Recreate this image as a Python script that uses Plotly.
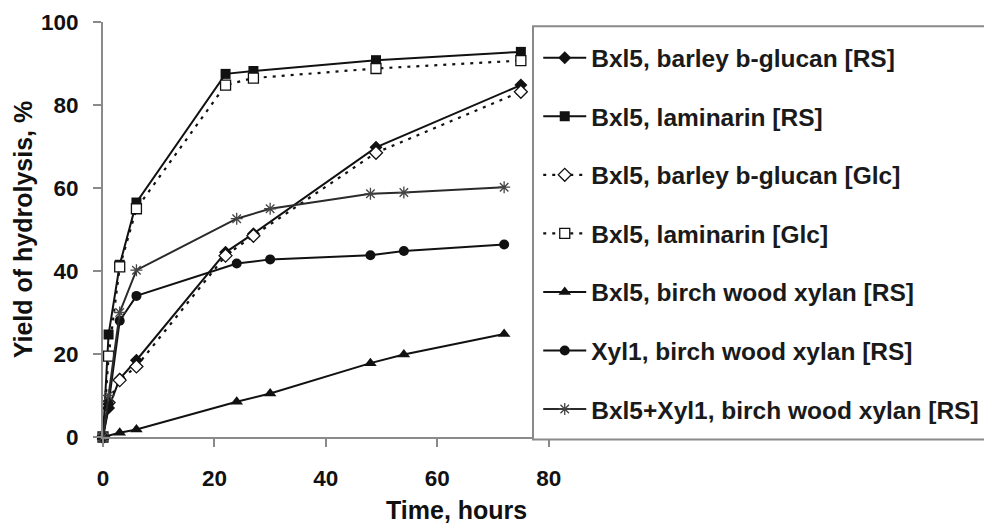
import plotly.graph_objects as go

# Sampling times (hours) for each series
t_glucan = [0, 1, 3, 6, 22, 27, 49, 75]
t_xylan = [0, 3, 6, 24, 30, 48, 54, 72]
t_xyl1 = [0, 1, 3, 6, 24, 30, 48, 54, 72]

# Yield of hydrolysis, %
barley_rs = [0, 7, 14, 18.5, 44.5, 49, 69.8, 84.8]
laminarin_rs = [0, 24.7, 41.5, 56.5, 87.5, 88.2, 90.8, 92.8]
barley_glc = [0, 8.3, 13.7, 17, 43.7, 48.5, 68.5, 83.2]
laminarin_glc = [0, 19.5, 41, 55, 84.8, 86.5, 88.8, 90.7]
bxl5_xylan = [0, 1, 1.8, 8.5, 10.5, 17.8, 19.9, 24.8]
xyl1_xylan = [0, 8, 28, 34, 41.8, 42.8, 43.8, 44.8, 46.4]
mix_xylan = [0, 10, 30, 40.2, 52.6, 55, 58.6, 58.9, 60.2]

names = [
    "Bxl5, barley b-glucan [RS]",
    "Bxl5, laminarin [RS]",
    "Bxl5, barley b-glucan [Glc]",
    "Bxl5, laminarin [Glc]",
    "Bxl5, birch wood xylan [RS]",
    "Xyl1, birch wood xylan [RS]",
    "Bxl5+Xyl1, birch wood xylan [RS]",
]

x_ticks = [0, 20, 40, 60, 80]
y_ticks = [0, 20, 40, 60, 80, 100]

FONT = "Liberation Sans, Arial, sans-serif"
INK = "#111111"
AXIS = "#8a8a8a"

series = [
    (t_glucan, barley_rs, dict(symbol="diamond", size=10, color=INK), dict(color=INK, width=2)),
    (t_glucan, laminarin_rs, dict(symbol="square", size=10, color=INK), dict(color=INK, width=2)),
    (t_glucan, barley_glc, dict(symbol="diamond", size=10, color="white", line=dict(color=INK, width=1.3)),
     dict(color=INK, width=2.2, dash="3px,6px")),
    (t_glucan, laminarin_glc, dict(symbol="square", size=10, color="white", line=dict(color=INK, width=1.3)),
     dict(color=INK, width=2.2, dash="3px,6px")),
    (t_xylan, bxl5_xylan, dict(symbol="triangle-up", size=11, color=INK), dict(color=INK, width=2)),
    (t_xyl1, xyl1_xylan, dict(symbol="circle", size=10, color=INK), dict(color=INK, width=2)),
    (t_xyl1, mix_xylan, dict(symbol="asterisk-open", size=10, color="#444444", line=dict(color="#444444", width=1.3)),
     dict(color="#2a2a2a", width=2)),
]

fig = go.Figure()
for i, (xs, ys, mk, ln) in enumerate(series):
    fig.add_trace(go.Scatter(
        x=xs, y=ys, name=names[i], mode="lines+markers",
        marker=mk, line=ln, cliponaxis=False, legendgroup=f"g{i}",
    ))

# Legend frame: white box laid over the right end of the x axis
fig.add_shape(
    type="rect", xref="paper", yref="paper",
    x0=0.9188, x1=2.0, y0=-0.006, y1=0.99,
    fillcolor="white", line=dict(color=AXIS, width=2), layer="above",
)

fig.update_layout(
    width=984, height=526,
    margin=dict(l=103, r=413, t=22, b=89, autoexpand=False),
    paper_bgcolor="white", plot_bgcolor="white",
    font=dict(family=FONT, color=INK),
    showlegend=True,
    legend=dict(
        x=0.93, y=0.968, xanchor="left", yanchor="top",
        bgcolor="rgba(0,0,0,0)", borderwidth=0,
        font=dict(family=FONT, size=24.5, color="#1a1a1a", weight="bold"),
        itemwidth=43, tracegroupgap=23.7,
    ),
    xaxis=dict(
        range=[0, 84], tickvals=x_ticks, ticktext=[str(v) for v in x_ticks],
        showgrid=False, zeroline=False,
        showline=True, linecolor=AXIS, linewidth=2,
        ticks="outside", ticklen=8, tickwidth=1.5, tickcolor=AXIS,
        ticklabelstandoff=12,
        tickfont=dict(family=FONT, size=22.5, color=INK, weight="bold"),
    ),
    yaxis=dict(
        range=[0, 100], tickvals=y_ticks, ticktext=[str(v) for v in y_ticks],
        showgrid=False, zeroline=False,
        showline=True, linecolor=AXIS, linewidth=2,
        ticks="outside", ticklen=8, tickwidth=1.5, tickcolor=AXIS,
        ticklabelstandoff=10,
        tickfont=dict(family=FONT, size=22.5, color=INK, weight="bold"),
        title=dict(text="Yield of hydrolysis, %", standoff=1,
                   font=dict(family=FONT, size=25, color=INK, weight="bold")),
    ),
)

# Horizontal axis title sits lower and to the right of the axis centre
fig.add_annotation(
    text="Time, hours", xref="paper", yref="paper",
    x=(456 - 103) / 468, y=(437.5 - 510) / 415,
    showarrow=False, xanchor="center", yanchor="middle",
    font=dict(family=FONT, size=25, color=INK, weight="bold"),
)

fig.write_html("out.html")
